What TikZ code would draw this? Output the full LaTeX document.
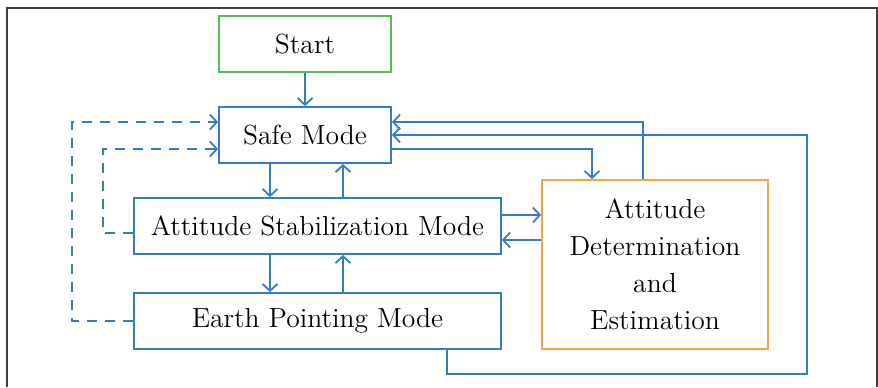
\documentclass[tikz,border=0pt]{standalone}
\usetikzlibrary{arrows.meta}
\definecolor{flowblue}{RGB}{52,125,195}
\definecolor{startgreen}{RGB}{84,188,84}
\definecolor{adeorange}{RGB}{247,162,72}
\begin{document}
\begin{tikzpicture}[x=0.5pt, y=-0.5pt,
		box/.style={draw=flowblue, line width=0.9pt, inner sep=0pt, align=center,
			font=\fontsize{13.8}{18.5}\selectfont},
		link/.style={flowblue, line width=0.9pt, -{Straight Barb[length=3.5pt,width=7.5pt]}},
		backlink/.style={link, dash pattern=on 5pt off 4pt},
	]
	\useasboundingbox (0,0) rectangle (878,387);
	\draw[black!75, line width=1pt] (7,387) -- (7,8) -- (877,8) -- (877,387);

	\node[box, draw=startgreen, minimum width=86pt, minimum height=28pt] (start) at (305, 44) {Start};
	\node[box, minimum width=86pt, minimum height=28pt] (safe) at (305, 135) {Safe Mode};
	\node[box, minimum width=183.5pt, minimum height=28pt] (asm) at (317.5, 226) {Attitude Stabilization Mode};
	\node[box, minimum width=183.5pt, minimum height=28pt] (epm) at (317.5, 321) {Earth Pointing Mode};
	\node[box, draw=adeorange, minimum width=113pt, minimum height=84.5pt] (ade) at (655, 264.5)
		{Attitude\\Determination\\and\\Estimation};

	% helper columns and corners
	\coordinate (down) at (270, 0);
	\coordinate (up) at (343, 0);
	\coordinate (far) at (72, 0);
	\coordinate (near) at (103, 0);
	\coordinate (toade) at (592, 0);
	\coordinate (fromade) at (643, 0);
	\coordinate (loopa) at (447, 374);
	\coordinate (loopb) at (807, 374);

	\draw[link] (start) -- (safe);
	\draw[link] (safe.south -| down) -- (asm.north -| down);
	\draw[link] (asm.north -| up) -- (safe.south -| up);
	\draw[link] (asm.south -| down) -- (epm.north -| down);
	\draw[link] (epm.north -| up) -- (asm.south -| up);

	\draw[link] ([yshift=5.5pt]asm.east) -- ([yshift=5.5pt]asm.east -| ade.west);
	\draw[link] ([yshift=-7pt]asm.east -| ade.west) -- ([yshift=-7pt]asm.east);

	\draw[link] ([yshift=-7pt]safe.east) -| (ade.north -| toade);
	\draw[link] (ade.north -| fromade) |- ([yshift=6.5pt]safe.east);
	\draw[link] (epm.south -| loopa) -- (loopa) -- (loopb) |- (safe.east);

	% back to safe mode
	\draw[backlink] (epm.west) -- (epm.west -| far) |- ([yshift=6.5pt]safe.west);
	\draw[backlink] ([yshift=-3.5pt]asm.west) -- ([yshift=-3.5pt]asm.west -| near) |- ([yshift=-7pt]safe.west);
\end{tikzpicture}
\end{document}
